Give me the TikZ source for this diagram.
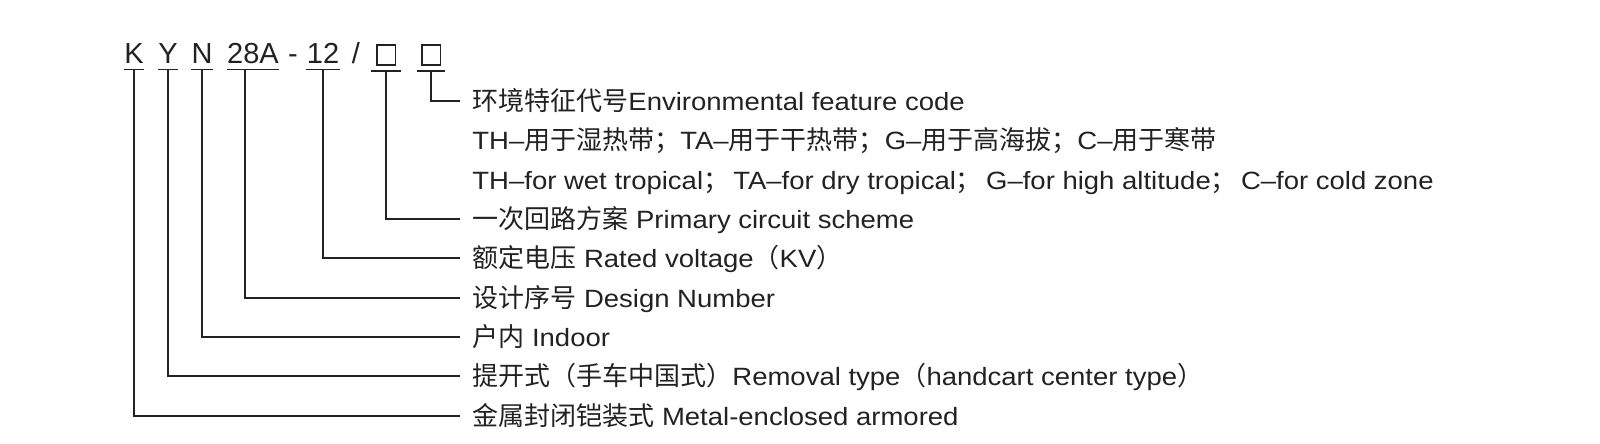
\documentclass[tikz,border=0pt]{standalone}
\usepackage{fontspec}
\setmainfont{Liberation Sans}[FakeStretch=1.1]
\newfontfamily\codefont{Liberation Sans}
\newfontfamily\cjk{Noto Sans CJK SC}
\definecolor{ink}{HTML}{222222}
\newcommand\zh[1]{{\fontsize{13pt}{15pt}\selectfont\cjk #1}}
\newcommand\blankbox{{\fboxsep=0pt\fboxrule=0.75pt\framebox[10pt]{\rule{0pt}{9pt}}}}
\begin{document}
\begin{tikzpicture}[x=0.5pt,y=-0.5pt,
	codepart/.style={anchor=base,inner xsep=0pt,inner ysep=2.5pt,text=ink,font=\codefont\fontsize{14.5pt}{16pt}\selectfont},
	legend/.style={anchor=west,inner xsep=6pt,inner ysep=0pt,text height=10pt,text depth=0.8pt,text=ink,font=\fontsize{12.5pt}{15pt}\selectfont},
	lead/.style={draw=ink,line width=0.75pt}]
	\useasboundingbox (0,0) rectangle (1600,444);
	
	% model code
	\node[codepart,minimum width=10pt] (K) at (134,64) {K};
	\node[codepart,minimum width=10pt] (Y) at (168,64) {Y};
	\node[codepart,minimum width=11pt] (N) at (202,64) {N};
	\node[codepart,minimum width=25pt] (D) at (253,64) {28A};
	\node[codepart] (dash) at (293,64) {-};
	\node[codepart,minimum width=17pt] (R) at (323,64) {12};
	\node[codepart] (slash) at (356,64) {/};
	\node[codepart,minimum width=15pt] (B) at (386,64) {\blankbox};
	\node[codepart,minimum width=14pt] (E) at (431,64) {\blankbox};
	\foreach \p in {K,Y,N,D,R,B,E}
		\draw[lead] (\p.south west) -- (\p.south east);
	
	% explanations
	\node[legend] (t0) at (460,101) {\zh{环境特征代号}Environmental feature code};
	\node[legend] (t1) at (460,140) {TH–\zh{用于湿热带；}TA–\zh{用于干热带；}G–\zh{用于高海拔；}C–\zh{用于寒带}};
	\node[legend] (t2) at (460,180) {TH–for wet tropical\zh{；}\,TA–for dry tropical\zh{；}\,G–for high altitude\zh{；}\,C–for cold zone};
	\node[legend] (t3) at (460,219) {\zh{一次回路方案} Primary circuit scheme};
	\node[legend] (t4) at (460,258) {\zh{额定电压} Rated voltage\zh{（}KV\zh{）}};
	\node[legend] (t5) at (460,298) {\zh{设计序号} Design Number};
	\node[legend] (t6) at (460,337) {\zh{户内} Indoor};
	\node[legend] (t7) at (460,376) {\zh{提开式（手车中国式）}Removal type\zh{（}handcart center type\zh{）}};
	\node[legend] (t8) at (460,416) {\zh{金属封闭铠装式} Metal-enclosed armored};
	
	\draw[lead] (E.south) |- (t0.west);
	\draw[lead] (B.south) |- (t3.west);
	\draw[lead] (R.south) |- (t4.west);
	\draw[lead] ([xshift=-4pt]D.south) |- (t5.west);
	\draw[lead] (N.south) |- (t6.west);
	\draw[lead] (Y.south) |- (t7.west);
	\draw[lead] (K.south) |- (t8.west);
\end{tikzpicture}
\end{document}
